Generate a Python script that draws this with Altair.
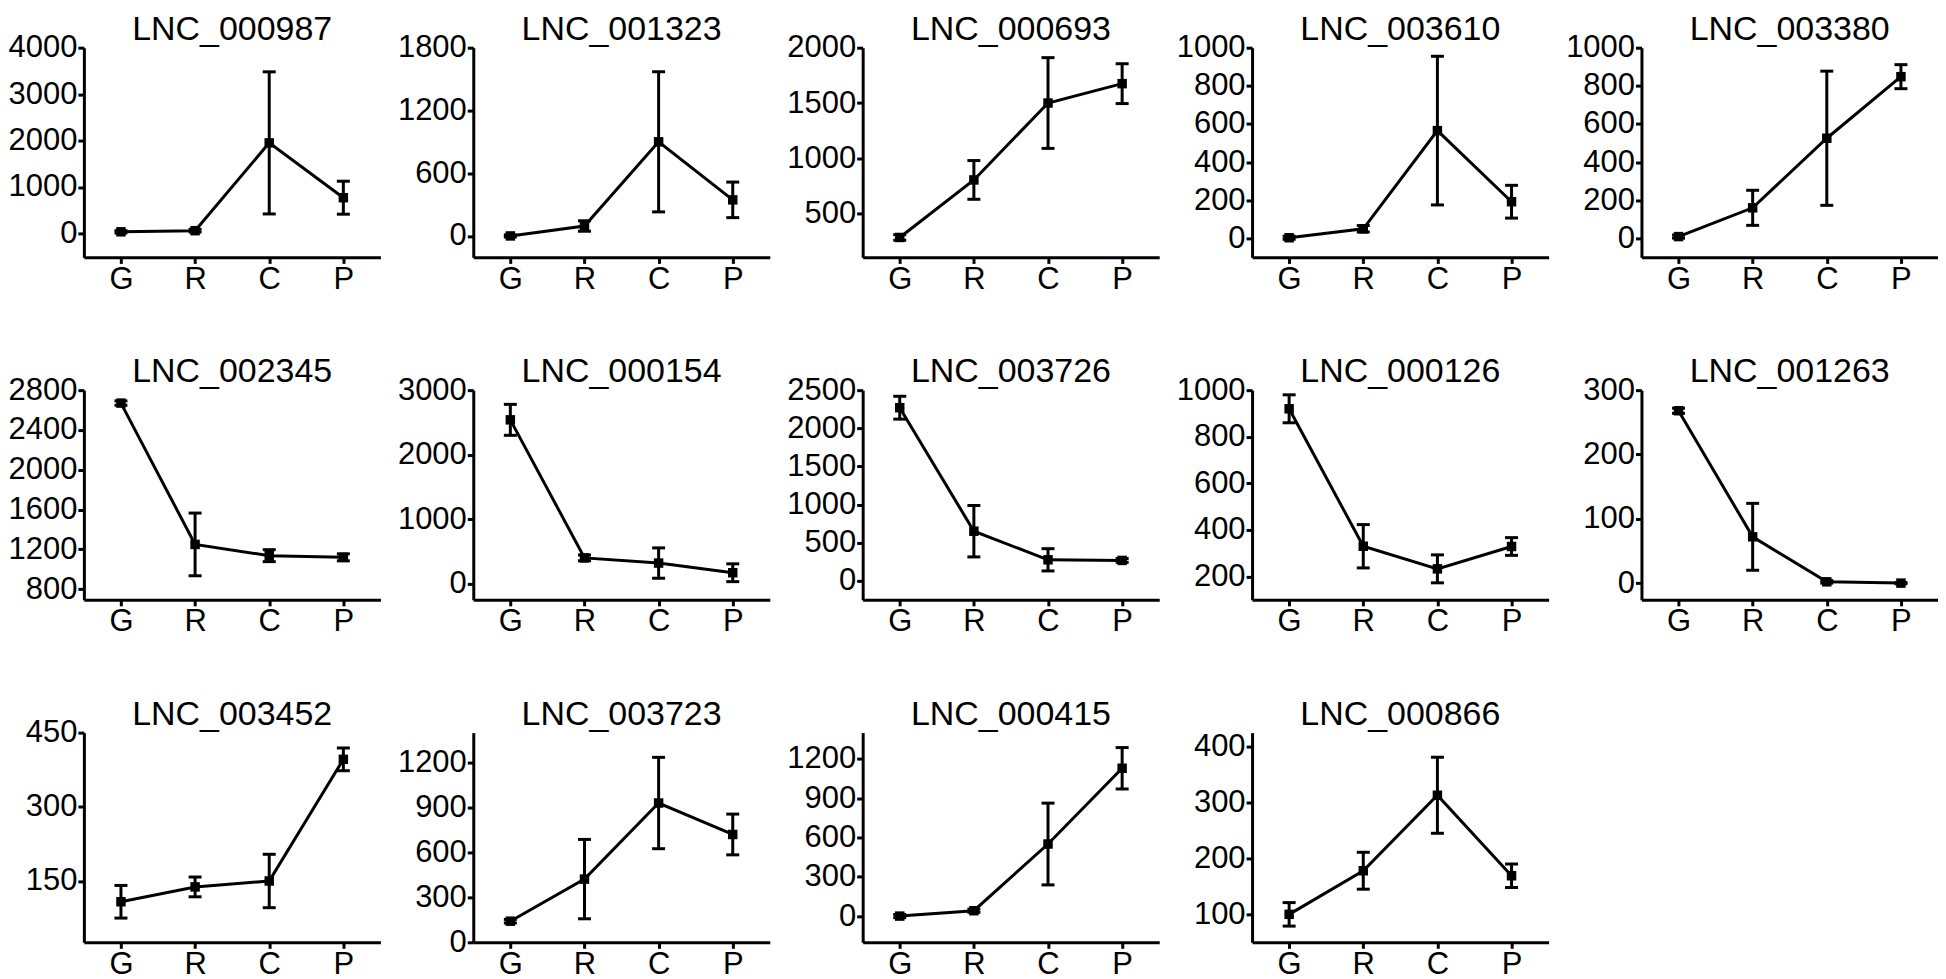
import altair as alt
import pandas as pd

groups = ["G", "R", "C", "P"]

genes = ["LNC_000987", "LNC_001323", "LNC_000693", "LNC_003610", "LNC_003380",
         "LNC_002345", "LNC_000154", "LNC_003726", "LNC_000126", "LNC_001263",
         "LNC_003452", "LNC_003723", "LNC_000415", "LNC_000866"]

means = [
    [35, 60, 1950, 770],
    [0, 95, 900, 345],
    [285, 805, 1500, 1675],
    [3, 50, 565, 192],
    [9, 160, 525, 848],
    [2670, 1250, 1137, 1120],
    [2540, 400, 320, 170],
    [2270, 650, 275, 267],
    [920, 330, 233, 329],
    [268, 72, 2, 0],
    [108, 138, 150, 396],
    [141, 422, 930, 720],
    [0, 41, 550, 1128],
    [100, 178, 313, 169],
]

errors = [
    [25, 30, 1530, 355],
    [10, 50, 670, 170],
    [25, 175, 410, 180],
    [8, 17, 390, 86],
    [8, 92, 352, 63],
    [22, 315, 60, 35],
    [240, 45, 235, 138],
    [150, 337, 146, 25],
    [60, 93, 60, 38],
    [4, 52, 2, 1],
    [33, 20, 54, 23],
    [12, 265, 305, 136],
    [12, 12, 312, 158],
    [21, 33, 68, 21],
]

y_domains = [
    [-515, 4000], [-205, 1800], [105, 2000], [-100, 1000], [-100, 1000],
    [693, 2800], [-250, 3000], [-250, 2500], [100, 1000], [-26, 300],
    [26, 450], [0, 1400], [-200, 1400], [50, 425],
]

y_ticks = [
    [0, 1000, 2000, 3000, 4000],
    [0, 600, 1200, 1800],
    [500, 1000, 1500, 2000],
    [0, 200, 400, 600, 800, 1000],
    [0, 200, 400, 600, 800, 1000],
    [800, 1200, 1600, 2000, 2400, 2800],
    [0, 1000, 2000, 3000],
    [0, 500, 1000, 1500, 2000, 2500],
    [200, 400, 600, 800, 1000],
    [0, 100, 200, 300],
    [150, 300, 450],
    [0, 300, 600, 900, 1200],
    [0, 300, 600, 900, 1200],
    [100, 200, 300, 400],
]

FONT = "Liberation Sans"
W, H = 297, 210
YEXT = 76
LW = 3


def panel(i):
    df = pd.DataFrame({"group": groups, "mean": means[i], "err": errors[i]})
    base = alt.Chart(df).transform_calculate(
        lo="datum.mean - datum.err", hi="datum.mean + datum.err"
    )
    x = alt.X(
        "group:N", sort=groups,
        scale=alt.Scale(type="point", padding=0.5),
        axis=alt.Axis(title=None, labelAngle=0, minExtent=40, maxExtent=40),
    )
    yscale = alt.Scale(domain=y_domains[i], nice=False, zero=False)
    yaxis = alt.Axis(title=None, values=y_ticks[i], grid=False,
                     minExtent=YEXT, maxExtent=YEXT, format="d")

    def Y(field):
        return alt.Y(field, scale=yscale, axis=yaxis)

    rule = base.mark_rule(color="black", strokeWidth=LW).encode(
        x=x, y=Y("lo:Q"), y2="hi:Q")
    cap_top = base.mark_tick(color="black", size=13, thickness=LW, opacity=1).encode(
        x=x, y=Y("hi:Q"))
    cap_bot = base.mark_tick(color="black", size=13, thickness=LW, opacity=1).encode(
        x=x, y=Y("lo:Q"))
    line = base.mark_line(color="black", strokeWidth=LW).encode(x=x, y=Y("mean:Q"))
    pts = base.mark_square(size=90, color="black", opacity=1).encode(x=x, y=Y("mean:Q"))
    title = alt.Chart(pd.DataFrame({"gene": [genes[i]]})).mark_text(
        font=FONT, fontSize=34, color="black", align="center", baseline="alphabetic"
    ).encode(text="gene:N", x=alt.value(W / 2), y=alt.value(-8))
    return alt.layer(rule, cap_top, cap_bot, line, pts, title).properties(
        width=W, height=H)


HSP = 390 - W - YEXT

rows = [
    alt.hconcat(*[panel(i) for i in range(0, 5)], spacing=HSP),
    alt.hconcat(*[panel(i) for i in range(5, 10)], spacing=HSP),
    alt.hconcat(*[panel(i) for i in range(10, 14)], spacing=HSP),
]

chart = alt.vconcat(*rows, spacing=58).properties(
    padding={"left": 0, "top": 4, "right": 0, "bottom": 0}
).configure_view(
    strokeWidth=0
).configure_axis(
    domainColor="black", domainWidth=3, tickColor="black", tickWidth=3,
    tickSize=6, labelFont=FONT, labelFontSize=31, labelColor="black",
    labelPadding=1,
)

chart.save("out.html", embed_options={"renderer": "svg", "actions": False})
